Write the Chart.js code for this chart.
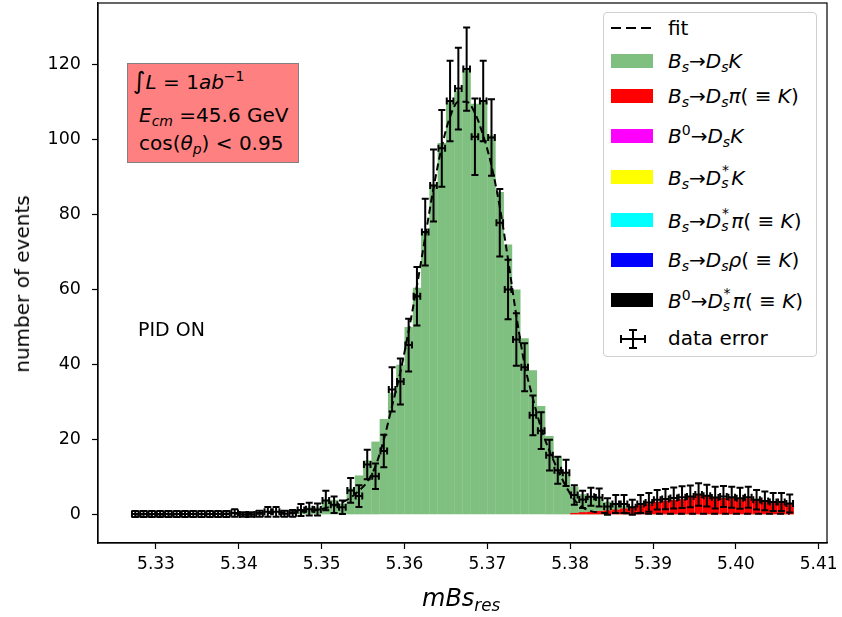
<!DOCTYPE html>
<html>
<head>
<meta charset="utf-8">
<script src="https://cdn.jsdelivr.net/npm/chart.js@4.4.1/dist/chart.umd.min.js"></script>
<style>
  body { margin: 0; background: #fff; font-family: "DejaVu Sans", sans-serif; color: #000; }
  #wrap { position: relative; width: 842px; height: 617px; }
  #c { position: absolute; left: 0; top: 0; }
  .ov { position: absolute; white-space: nowrap; font-size: 20px; line-height: 24px; }
  i { font-style: italic; }
  sub, sup { font-size: 70%; line-height: 0; }
  sub { vertical-align: -0.3em; }
  sup { vertical-align: 0.55em; }
  .ss { display: inline-block; position: relative; width: 0.5em; height: 1em; }
  .ss .u { position: absolute; left: 0.05em; top: -0.5em; font-size: 70%; }
  .ss .d { position: absolute; left: 0; top: 0.45em; font-size: 70%; }
  #info { left: 127px; top: 63px; width: 170px; height: 98px; background: rgb(255,128,128);
          border: 1px solid rgb(128,128,128); }
  #info div { position: absolute; left: 11px; }
  #ylab { position: absolute; left: 22px; top: 284px; width: 0; height: 0; }
  #ylab span { position: absolute; left: 0; top: 0; transform: translate(-50%, -50%) rotate(-90deg);
               font-size: 20px; line-height: 24px; white-space: nowrap; }
  #legend { position: absolute; left: 603px; top: 12px; width: 212px; height: 343px;
            border: 1px solid #d0d0d0; border-radius: 4px; background: #fff; }
  #legend .row { position: absolute; left: 64px; height: 24px; line-height: 24px; font-size: 20px; white-space: nowrap; }
  #legend .patch { position: absolute; left: 7px; width: 42px; height: 14px; }
</style>
</head>
<body>
<div id="wrap">
  <canvas id="c" width="842" height="617"></canvas>

  <div id="ylab"><span>number of events</span></div>

  <div id="info" class="ov">
    <div style="top:5px; left:5px"><span style="font-size:24px">&#8747;</span><i>L</i> = 1<i>ab</i><sup>&minus;1</sup></div>
    <div style="top:39px"><i>E<sub>cm</sub></i> =45.6 GeV</div>
    <div style="top:67px">cos(<i>&theta;<sub>p</sub></i>) &lt; 0.95</div>
  </div>

  <div class="ov" style="left:138px; top:317px; font-size:19px;">PID ON</div>

  <div class="ov" style="left:422px; top:584px; font-size:24px; line-height:28px;"><i>mBs<sub>res</sub></i></div>

  <div id="legend">
    <svg style="position:absolute;left:7px;top:11px" width="44" height="8">
      <line x1="0" y1="4" x2="43" y2="4" stroke="#000" stroke-width="2" stroke-dasharray="10,5"/>
    </svg>
    <div class="row" style="top:3px">fit</div>

    <div class="patch" style="top:41px; background:rgb(127,191,127)"></div>
    <div class="row" style="top:36px"><i>B<sub>s</sub></i>&rarr;<i>D<sub>s</sub>K</i></div>

    <div class="patch" style="top:76px; background:#ff0000"></div>
    <div class="row" style="top:71px"><i>B<sub>s</sub></i>&rarr;<i>D<sub>s</sub>&pi;</i>( &equiv; <i>K</i>)</div>

    <div class="patch" style="top:116px; background:#ff00ff"></div>
    <div class="row" style="top:111px"><i>B</i><sup>0</sup>&rarr;<i>D<sub>s</sub>K</i></div>

    <div class="patch" style="top:157px; background:#ffff00"></div>
    <div class="row" style="top:152px"><i>B<sub>s</sub></i>&rarr;<i>D</i><span class="ss"><span class="u">*</span><span class="d"><i>s</i></span></span><i>K</i></div>

    <div class="patch" style="top:200px; background:#00ffff"></div>
    <div class="row" style="top:195px"><i>B<sub>s</sub></i>&rarr;<i>D</i><span class="ss"><span class="u">*</span><span class="d"><i>s</i></span></span><i>&pi;</i>( &equiv; <i>K</i>)</div>

    <div class="patch" style="top:240px; background:#0000ff"></div>
    <div class="row" style="top:235px"><i>B<sub>s</sub></i>&rarr;<i>D<sub>s</sub>&rho;</i>( &equiv; <i>K</i>)</div>

    <div class="patch" style="top:280px; background:#000000"></div>
    <div class="row" style="top:275px"><i>B</i><sup>0</sup>&rarr;<i>D</i><span class="ss"><span class="u">*</span><span class="d"><i>s</i></span></span><i>&pi;</i>( &equiv; <i>K</i>)</div>

    <svg style="position:absolute;left:16px;top:316px" width="26" height="20">
      <g stroke="#000" stroke-width="2">
        <line x1="1" y1="10" x2="25" y2="10"/>
        <line x1="1" y1="6" x2="1" y2="14"/>
        <line x1="25" y1="6" x2="25" y2="14"/>
        <line x1="13" y1="1" x2="13" y2="19"/>
        <line x1="9" y1="1" x2="17" y2="1"/>
        <line x1="9" y1="19" x2="17" y2="19"/>
      </g>
    </svg>
    <div class="row" style="top:313px">data error</div>
  </div>
</div>

<script>
// binning of mBs_res
const binStart = 5.327;
const binWidth = 0.001;
const nBins = 80;
const xErr = 0.0004;

const xTicks = [5.33, 5.34, 5.35, 5.36, 5.37, 5.38, 5.39, 5.40, 5.41];
const yTicks = [0, 20, 40, 60, 80, 100, 120];

// Bs -> Ds K (green)
const greenCounts = [
  0, 0, 0, 0, 0, 0, 0, 0, 0, 0,
  0, 0, 0, 0, 0, 0, 0, 0, 0, 0,
  1.5, 2.0, 2.0, 4.0, 4.0, 3.0, 7.0, 10.5, 14.5, 19.5,
  25.5, 32.5, 40.0, 50.0, 60.5, 75.5, 88.0, 99.0, 110.0, 113.0,
  118.7, 109.5, 110.0, 101.0, 86.0, 72.0, 60.0, 47.0, 38.5, 29.0,
  21.0, 15.5, 11.0, 7.5, 5.5, 5.0, 4.5, 3.5, 3.0, 2.5,
  2.0, 1.5, 1.0, 0.8, 0.5, 0.3, 0.2, 0.2, 0.2, 0.2,
  0.2, 0.2, 0.2, 0.2, 0.2, 0.2, 0.2, 0.2, 0.2, 0.2
];

// Bs -> Ds pi (red)
const redCounts = [
  0, 0, 0, 0, 0, 0, 0, 0, 0, 0,
  0, 0, 0, 0, 0, 0, 0, 0, 0, 0,
  0, 0, 0, 0, 0, 0, 0, 0, 0, 0,
  0, 0, 0, 0, 0, 0, 0, 0, 0, 0,
  0, 0, 0, 0, 0, 0, 0, 0, 0, 0,
  0, 0, 0, 0.5, 0.7, 0.8, 1.0, 1.2, 1.4, 1.7,
  2.2, 2.6, 3.0, 3.5, 3.8, 4.0, 4.2, 5.0, 5.5, 5.2,
  4.8, 4.5, 4.6, 4.3, 4.4, 4.0, 3.6, 3.3, 3.2, 3.0
];

// pseudo data and its errors
const dataCounts = [
  0.2, 0.2, 0.2, 0.2, 0.2, 0.2, 0.2, 0.2, 0.2, 0.2,
  0.2, 0.2, 0.5, 0.1, 0.1, 0.3, 0.8, 0.8, 0.3, 0.4,
  1.3, 1.5, 1.4, 3.8, 2.7, 2.0, 6.5, 5.0, 13.4, 10.3,
  17.0, 33.4, 35.5, 45.2, 58.2, 75.3, 87.7, 97.6, 110.2, 113.5,
  118.7, 100.7, 110.2, 100.5, 77.8, 60.0, 46.7, 39.3, 26.5, 22.4,
  15.9, 11.9, 11.2, 5.3, 4.1, 4.8, 4.6, 2.2, 2.9, 2.9,
  2.0, 2.9, 3.3, 4.0, 4.2, 4.5, 4.7, 4.9, 5.4, 5.1,
  4.6, 4.9, 4.7, 4.4, 4.7, 4.0, 3.7, 3.4, 3.4, 3.0
];
const dataErrors = [
  0.8, 0.8, 0.8, 0.8, 0.8, 0.8, 0.8, 0.8, 0.8, 0.8,
  0.8, 0.8, 1.0, 0.6, 0.6, 0.8, 1.3, 1.3, 0.8, 0.9,
  1.6, 1.7, 1.6, 2.6, 2.2, 1.8, 3.3, 2.9, 3.9, 3.4,
  4.3, 5.9, 6.1, 7.0, 7.8, 8.9, 9.6, 10.2, 10.7, 10.9,
  11.1, 10.2, 10.7, 10.2, 9.0, 7.9, 7.0, 6.4, 5.3, 4.9,
  4.1, 3.6, 3.5, 2.6, 2.3, 2.4, 2.4, 2.2, 2.4, 2.4,
  2.0, 2.4, 2.5, 2.6, 2.7, 2.8, 2.9, 2.9, 3.0, 2.9,
  2.9, 2.8, 2.8, 2.8, 2.8, 2.6, 2.5, 2.4, 2.4, 2.4
];

// fitted model
const fitValues = [
  0.1, 0.1, 0.1, 0.1, 0.1, 0.1, 0.2, 0.2, 0.2, 0.2,
  0.3, 0.3, 0.3, 0.4, 0.4, 0.5, 0.5, 0.6, 0.6, 0.7,
  0.8, 1.0, 1.3, 1.8, 2.4, 3.3, 4.6, 6.4, 8.8, 13.0,
  20.0, 29.0, 38.0, 49.0, 61.0, 74.0, 87.0, 98.0, 106.0, 110.0,
  110.0, 107.0, 101.0, 93.0, 82.0, 68.0, 53.0, 40.0, 31.0, 23.0,
  17.0, 12.0, 7.5, 4.0, 2.0, 1.0, 0.6, 0.5, 0.5, 0.4,
  0.4, 0.4, 0.3, 0.3, 0.3, 0.3, 0.3, 0.3, 0.3, 0.3,
  0.3, 0.3, 0.3, 0.3, 0.3, 0.3, 0.3, 0.3, 0.3, 0.3
];

const binCenters = [];
for (let i = 0; i < nBins; i++) binCenters.push(binStart + (i + 0.5) * binWidth);
const pts = arr => arr.map((v, i) => ({x: binCenters[i], y: v}));

// data points drawn as x/y error bars with caps
const errorBars = {
  id: 'errorBars',
  afterDatasetsDraw(chart) {
    const {ctx, scales: {x, y}} = chart;
    ctx.save();
    ctx.strokeStyle = '#000';
    ctx.lineWidth = 2;
    const cap = 3.5;
    dataCounts.forEach((v, i) => {
      const px = x.getPixelForValue(binCenters[i]);
      const py = y.getPixelForValue(v);
      const top = y.getPixelForValue(v + dataErrors[i]);
      const bot = y.getPixelForValue(v - dataErrors[i]);
      const xl = x.getPixelForValue(binCenters[i] - xErr);
      const xr = x.getPixelForValue(binCenters[i] + xErr);
      ctx.beginPath();
      ctx.moveTo(px, top); ctx.lineTo(px, bot);
      ctx.moveTo(px - cap, top); ctx.lineTo(px + cap, top);
      ctx.moveTo(px - cap, bot); ctx.lineTo(px + cap, bot);
      ctx.moveTo(xl, py); ctx.lineTo(xr, py);
      ctx.moveTo(xl, py - cap); ctx.lineTo(xl, py + cap);
      ctx.moveTo(xr, py - cap); ctx.lineTo(xr, py + cap);
      ctx.stroke();
    });
    ctx.restore();
  }
};

const frame = {
  id: 'frame',
  afterDraw(chart) {
    const {ctx, chartArea: a} = chart;
    ctx.save();
    ctx.strokeStyle = '#000';
    ctx.lineWidth = 1.2;
    ctx.strokeRect(a.left, a.top, a.right - a.left, a.bottom - a.top);
    ctx.restore();
  }
};

Chart.defaults.font.family = 'DejaVu Sans';
Chart.defaults.color = '#000';

const histStyle = {
  borderWidth: 0,
  inflateAmount: 0,
  grouped: false,
  barPercentage: 1,
  categoryPercentage: 1
};

new Chart(document.getElementById('c'), {
  type: 'bar',
  data: {
    datasets: [
      Object.assign({
        label: 'Bs->DsK',
        data: pts(greenCounts),
        backgroundColor: 'rgba(0,128,0,0.5)',
        order: 3
      }, histStyle),
      Object.assign({
        label: 'Bs->Dspi',
        data: pts(redCounts),
        backgroundColor: '#ff0000',
        order: 2
      }, histStyle),
      {
        type: 'line',
        label: 'fit',
        data: pts(fitValues),
        borderColor: '#000',
        borderWidth: 2,
        borderDash: [7, 4],
        pointRadius: 0,
        cubicInterpolationMode: 'monotone',
        fill: false,
        order: 1
      }
    ]
  },
  options: {
    responsive: false,
    animation: false,
    devicePixelRatio: 1,
    layout: { padding: { top: 3, right: 15, left: 0, bottom: 0 } },
    plugins: { legend: { display: false }, tooltip: { enabled: false } },
    scales: {
      x: {
        type: 'linear',
        offset: false,
        min: 5.323,
        max: 5.411,
        afterBuildTicks: s => { s.ticks = xTicks.map(v => ({value: v})); },
        afterFit: s => { s.height = 74; s.paddingLeft = 0; s.paddingRight = 0; },
        ticks: { font: { size: 17 }, padding: 5, maxRotation: 0, callback: v => v.toFixed(2) },
        grid: { offset: false, drawOnChartArea: false, drawTicks: true, tickLength: 6, tickColor: '#000', tickWidth: 1.2 },
        border: { display: true, color: '#000', width: 1.2 }
      },
      y: {
        min: -7.5,
        max: 136.3,
        afterBuildTicks: s => { s.ticks = yTicks.map(v => ({value: v})); },
        afterFit: s => { s.width = 98; s.paddingTop = 0; s.paddingBottom = 0; },
        ticks: { font: { size: 17.5 }, padding: 11 },
        grid: { drawOnChartArea: false, drawTicks: true, tickLength: 6, tickColor: '#000', tickWidth: 1.2 },
        border: { display: true, color: '#000', width: 1.2 }
      }
    }
  },
  plugins: [errorBars, frame]
});
</script>
</body>
</html>
